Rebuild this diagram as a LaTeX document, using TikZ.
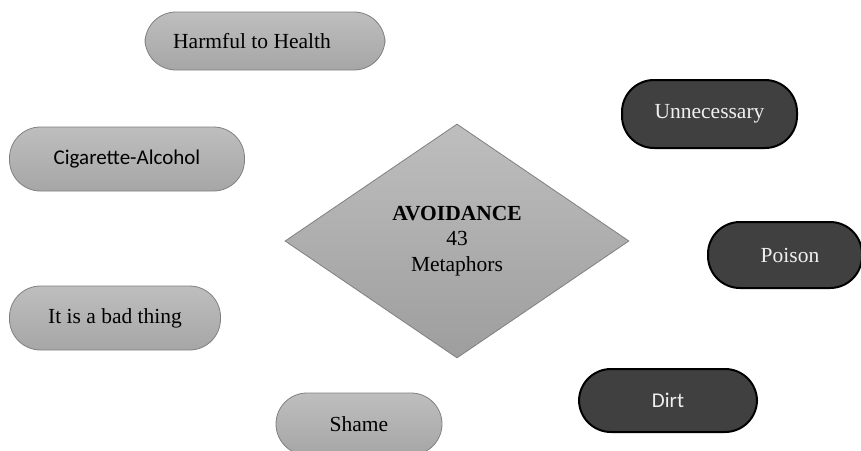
\documentclass[tikz,border=0pt]{standalone}
\usepackage{fontspec}
\setmainfont{Liberation Serif}
\newfontfamily\calfont{Carlito}
\usetikzlibrary{shapes.geometric}

\definecolor{lighttop}{RGB}{190,190,190}
\definecolor{lightbot}{RGB}{166,166,166}
\definecolor{lightrim}{RGB}{128,128,128}
\definecolor{darkfill}{RGB}{64,64,64}
\definecolor{darktext}{RGB}{240,240,240}

\tikzset{
  pill/.style={rectangle, rounded corners=#1, inner sep=0pt, align=center,
    font=\fontsize{21.5}{25.5}\selectfont},
  lightpill/.style={pill=31pt, top color=lighttop, bottom color=lightbot,
    draw=lightrim, line width=0.8pt, text=black},
  darkpill/.style={pill=32pt, fill=darkfill, draw=black, line width=2pt,
    text=darktext},
  sanslabel/.style={font=\calfont\fontsize{21}{25}\selectfont},
  centre/.style={diamond, inner sep=0pt, aspect=1.47, align=center,
    top color=lighttop, bottom color=lightbot!95!black,
    draw=lightrim, line width=0.8pt,
    font=\fontsize{21.5}{25.5}\selectfont}
}

\begin{document}
\begin{tikzpicture}[x=1pt, y=-1pt]
  \useasboundingbox (0,0) rectangle (861,450);
  \clip (0,0) rectangle (861,450);

  % central concept
  \node[centre, minimum width=344pt, minimum height=234pt] (core) at (457,241)
    {\textbf{AVOIDANCE}\\43\\Metaphors};

  % left-hand group
  \node[lightpill, minimum width=240pt, minimum height=58pt] (health) at (265,41)
    {Harmful to Health\hspace*{26pt}};
  \node[lightpill, sanslabel, minimum width=235pt, minimum height=64pt] (cig) at (127,159)
    {Cigarette-Alcohol};
  \node[lightpill, minimum width=211pt, minimum height=64pt] (bad) at (115,318)
    {It is a bad thing};
  \node[lightpill, minimum width=166pt, minimum height=62pt] (shame) at (359,424)
    {Shame};

  % right-hand group
  \node[darkpill, minimum width=175pt, minimum height=68pt] (unnec) at (709.5,114)
    {Unnecessary};
  \node[darkpill, minimum width=154pt, minimum height=66pt] (poison) at (785,255)
    {\hspace*{10pt}Poison};
  \node[darkpill, sanslabel, minimum width=178pt, minimum height=63pt] (dirt) at (668,400.5)
    {Dirt};
\end{tikzpicture}
\end{document}
